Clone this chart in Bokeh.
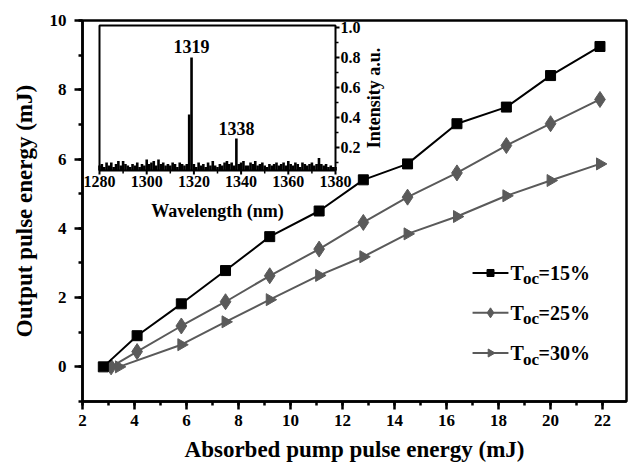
import math
from bokeh.plotting import figure
from bokeh.models import Range1d, SingleIntervalTicker
from bokeh.core.properties import value
from bokeh.embed import file_html
from bokeh.resources import INLINE

FONT = "Liberation Serif"

# ---------------- main data ----------------
x15 = [2.8, 4.1, 5.8, 7.5, 9.2, 11.1, 12.8, 14.5, 16.4, 18.3, 20.0, 21.9]
y15 = [0.0, 0.9, 1.82, 2.78, 3.76, 4.5, 5.4, 5.86, 7.02, 7.5, 8.41, 9.25]
x25 = [3.1, 4.1, 5.8, 7.5, 9.2, 11.1, 12.8, 14.5, 16.4, 18.3, 20.0, 21.9]
y25 = [0.0, 0.44, 1.18, 1.88, 2.63, 3.4, 4.17, 4.9, 5.6, 6.39, 7.02, 7.72]
x30 = [3.4, 5.8, 7.5, 9.2, 11.1, 12.8, 14.5, 16.4, 18.3, 20.0, 21.9]
y30 = [0.0, 0.64, 1.3, 1.94, 2.64, 3.18, 3.84, 4.34, 4.94, 5.38, 5.86]
legend_values = ["=15%", "=25%", "=30%"]

# ---------------- inset data ----------------
wavelength = list(range(1280, 1381))
intensity = [
    0.08, 0.09, 0.07, 0.10, 0.08, 0.10, 0.07, 0.09, 0.11, 0.08,
    0.11, 0.09, 0.08, 0.07, 0.09, 0.08, 0.10, 0.07, 0.09, 0.08,
    0.12, 0.09, 0.10, 0.11, 0.08, 0.12, 0.09, 0.10, 0.08, 0.09,
    0.08, 0.10, 0.09, 0.07, 0.10, 0.09, 0.08, 0.09, 0.42, 0.80,
    0.09, 0.07, 0.10, 0.08, 0.09, 0.07, 0.10, 0.08, 0.11, 0.08,
    0.07, 0.09, 0.08, 0.10, 0.11, 0.09, 0.10, 0.08, 0.26, 0.09,
    0.10, 0.11, 0.08, 0.08, 0.10, 0.09, 0.11, 0.08, 0.09, 0.10,
    0.08, 0.07, 0.09, 0.08, 0.09, 0.10, 0.08, 0.09, 0.10, 0.08,
    0.11, 0.09, 0.08, 0.10, 0.09, 0.07, 0.10, 0.09, 0.08, 0.09,
    0.10, 0.08, 0.09, 0.13, 0.09, 0.08, 0.09, 0.07, 0.08, 0.07,
    0.07,
]
peak_wl = [1319, 1338]
peak_int = [0.80, 0.26]
peak_labels = ["1319", "1338"]
inset_xticks = [1280, 1300, 1320, 1340, 1360, 1380]
inset_xminor = [1290, 1310, 1330, 1350, 1370]
inset_yticks = [0.2, 0.4, 0.6, 0.8, 1.0]
inset_yminor = [0.1, 0.3, 0.5, 0.7, 0.9]

# ---------------- geometry ----------------
W, H = 629, 464
FL, FR, FT, FB = 82, 626, 20, 401          # main frame in pixels
XR = (2, 22.92)
YR = (-1, 10)
IL, IR, IT, IB = 99, 335, 25, 170          # inset box in pixels
IX = (1280, 1380)
IY = (0.047, 1.013)

ppx = (IR - IL) / (IX[1] - IX[0])
ppy = (IB - IT) / (IY[1] - IY[0])
ix_range = Range1d(IX[0] - (IL - FL) / ppx, IX[1] + (FR - IR) / ppx)
iy_range = Range1d(IY[0] - (FB - IB) / ppy, IY[1] + (IT - FT) / ppy)

p = figure(width=W, height=H, output_backend="svg", toolbar_location=None,
           x_range=Range1d(*XR), y_range=Range1d(*YR),
           min_border_left=FL, min_border_right=W - FR,
           min_border_top=FT, min_border_bottom=H - FB)
p.extra_x_ranges = {"inset": ix_range}
p.extra_y_ranges = {"inset": iy_range}

p.xgrid.visible = False
p.ygrid.visible = False
p.outline_line_color = "black"
p.outline_line_width = 2.5
p.background_fill_color = "white"
p.border_fill_color = "white"

for ax in (p.xaxis[0], p.yaxis[0]):
    ax.ticker = SingleIntervalTicker(interval=2, num_minor_ticks=2)
    ax.axis_line_width = 2.5
    ax.major_tick_line_width = 2.5
    ax.minor_tick_line_width = 2.5
    ax.major_tick_in = 0
    ax.major_tick_out = 8
    ax.minor_tick_in = 0
    ax.minor_tick_out = 4
    ax.major_label_text_font = FONT
    ax.major_label_text_font_style = "bold"
    ax.major_label_text_font_size = "17px"
    ax.major_label_text_color = "black"
    ax.axis_label_text_font = FONT
    ax.axis_label_text_font_style = "bold"
    ax.axis_label_text_font_size = "23px"
    ax.axis_label_text_color = "black"

p.xaxis.axis_label = "Absorbed pump pulse energy (mJ)"
p.yaxis.axis_label = "Output pulse energy (mJ)"
p.xaxis.major_label_standoff = 5
p.xaxis.axis_label_standoff = 8
p.yaxis.major_label_standoff = 8
p.yaxis.axis_label_standoff = 10

GRAY = "#5a5a5a"
# main series
p.line(x30, y30, line_color=GRAY, line_width=2)
p.scatter(x30, y30, marker="triangle", size=12, angle=-math.pi / 2,
          fill_color=GRAY, line_color=GRAY)
p.line(x25, y25, line_color=GRAY, line_width=2)
p.scatter(x25, y25, marker="diamond", size=16, fill_color=GRAY, line_color=GRAY)
p.line(x15, y15, line_color="black", line_width=2)
p.scatter(x15, y15, marker="square", size=10, fill_color="black", line_color="black")

# manual legend (subscript text)
LEG_X0, LEG_X1 = 17.0, 18.38
LEG_Y = [2.71, 1.56, 0.40]
leg_colors = ["black", GRAY, GRAY]
leg_markers = ["square", "diamond", "triangle"]
leg_sizes = [7, 10, 8]
leg_angles = [0, 0, -math.pi / 2]
LEG_TX = 18.46
for i in range(3):
    p.segment(x0=[LEG_X0], y0=[LEG_Y[i]], x1=[LEG_X1], y1=[LEG_Y[i]],
              line_color=leg_colors[i], line_width=2)
    p.scatter([(LEG_X0 + LEG_X1) / 2], [LEG_Y[i]], marker=leg_markers[i],
              size=leg_sizes[i], angle=leg_angles[i],
              fill_color=leg_colors[i], line_color=leg_colors[i])
    p.text([LEG_TX], [LEG_Y[i]], text=["T"], text_font=value(FONT),
           text_font_style="bold", text_font_size="20px",
           text_baseline="middle", text_align="left", text_color="black")
    p.text([LEG_TX], [LEG_Y[i]], text=["oc"], text_font=value(FONT),
           text_font_style="bold", text_font_size="17px", x_offset=12.5, y_offset=6,
           text_baseline="middle", text_align="left", text_color="black")
    p.text([LEG_TX], [LEG_Y[i]], text=[legend_values[i]], text_font=value(FONT),
           text_font_style="bold", text_font_size="20px", x_offset=28,
           text_baseline="middle", text_align="left", text_color="black")

# ---------------- inset ----------------
kw = dict(x_range_name="inset", y_range_name="inset")
p.segment(x0=wavelength, y0=[IY[0]] * len(wavelength), x1=wavelength, y1=intensity,
          line_color="black", line_width=2.6, **kw)
p.quad(left=[IX[0]], right=[IX[1]], bottom=[IY[0]], top=[IY[1]],
       fill_color=None, line_color="black", line_width=2, **kw)

# inset x ticks (outward, down)
p.ray(x=inset_xticks, y=[IY[0]] * len(inset_xticks), length=4, length_units="screen",
      angle=-math.pi / 2, line_color="black", line_width=2, **kw)
p.ray(x=inset_xminor, y=[IY[0]] * len(inset_xminor), length=3, length_units="screen",
      angle=-math.pi / 2, line_color="black", line_width=1.5, **kw)
p.text(x=inset_xticks, y=[IY[0]] * len(inset_xticks), text=[str(t) for t in inset_xticks],
       text_font=value(FONT), text_font_style="bold", text_font_size="16px",
       text_align="center", text_baseline="top", y_offset=5, text_color="black", **kw)
p.text(x=[(IX[0] + IX[1]) / 2], y=[IY[0]], text=["Wavelength (nm)"],
       text_font=value(FONT), text_font_style="bold", text_font_size="18px",
       text_align="center", text_baseline="middle", y_offset=40, text_color="black", **kw)

# inset y ticks (outward, right)
p.ray(x=[IX[1]] * len(inset_yticks), y=inset_yticks, length=4, length_units="screen",
      angle=0, line_color="black", line_width=2, **kw)
p.ray(x=[IX[1]] * len(inset_yminor), y=inset_yminor, length=3, length_units="screen",
      angle=0, line_color="black", line_width=1.5, **kw)
p.text(x=[IX[1]] * len(inset_yticks), y=inset_yticks, text=["%.1f" % t for t in inset_yticks],
       text_font=value(FONT), text_font_style="bold", text_font_size="16px",
       text_align="left", text_baseline="middle", x_offset=5, text_color="black", **kw)
p.text(x=[IX[1]], y=[(IY[0] + IY[1]) / 2], text=["Intensity a.u."], angle=math.pi / 2,
       text_font=value(FONT), text_font_style="bold", text_font_size="18px",
       text_align="center", text_baseline="middle", x_offset=38, text_color="black", **kw)

# peak labels
p.text(x=peak_wl, y=peak_int, text=peak_labels, text_font=value(FONT),
       text_font_style="bold", text_font_size="18px", text_align="center",
       text_baseline="bottom", y_offset=-4, text_color="black", **kw)

open("out.html", "w").write(file_html(p, INLINE))
